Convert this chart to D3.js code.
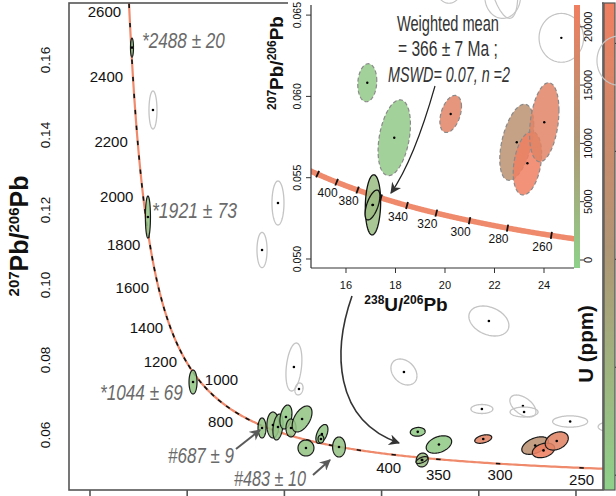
<!DOCTYPE html>
<html><head><meta charset="utf-8">
<script src="https://cdn.jsdelivr.net/npm/d3@7/dist/d3.min.js"></script>
<style>
html,body{margin:0;padding:0;background:#fff;}
svg{display:block;}
text{font-family:"Liberation Sans",Arial,Helvetica,sans-serif;}
</style></head><body>
<svg id="chart" width="616" height="496"></svg>
<script>
// U-Pb decay constants (per year) and 238U/235U ratio
const LAMBDA238 = 1.55125e-10, LAMBDA235 = 9.8485e-10, U238_U235 = 137.818;

// Main Tera-Wasserburg diagram
const mainXDomain = [-1.08, 26.39];
const mainYDomain = [0.04533, 0.1752];
const mainXTicks = [0, 5, 10, 15, 20, 25];
const mainYTicks = [0.06, 0.08, 0.10, 0.12, 0.14, 0.16];
const mainMarkerAges = d3.range(250, 2601, 50);
const mainAgeLabels = [2600, 2400, 2200, 2000, 1800, 1600, 1400, 1200, 1000, 800, 400, 350, 300, 250];

// Inset (zoom on the young grains)
const insetXDomain = [14.586, 25.212];
const insetYDomain = [0.049446, 0.065621];
const insetXTicks = [16, 18, 20, 22, 24];
const insetYTicks = [0.050, 0.055, 0.060, 0.065];
const insetMarkerAges = d3.range(260, 421, 20);
const insetAgeLabels = [400, 380, 340, 320, 300, 280, 260];

// U concentration colour bar (ppm)
const uDomain = [-686, 21870];
const uTicks = [0, 5000, 10000, 15000, 20000];

// Grains without U colouring (rejected analyses): centre, half-extent in x and y, correlation
const rejectedGrains = [
  {x: 3.24,  y: 0.14667, sx: 0.206, sy: 0.00507, rho: 0.0},
  {x: 9.67,  y: 0.12187, sx: 0.309, sy: 0.00587, rho: 0.0},
  {x: 8.85,  y: 0.10933, sx: 0.26,  sy: 0.0047,  rho: 0.0},
  {x: 10.49, y: 0.07813, sx: 0.41,  sy: 0.0064,  rho: 0.3},
  {x: 10.75, y: 0.07227, sx: 0.21,  sy: 0.0016,  rho: 0.2},
  {x: 16.15, y: 0.0768,  sx: 0.67,  sy: 0.00347, rho: -0.3},
  {x: 20.52, y: 0.0904,  sx: 1.03,  sy: 0.0040,  rho: -0.3},
  {x: 20.16, y: 0.06693, sx: 0.566, sy: 0.0012,  rho: 0.0},
  {x: 22.27, y: 0.06773, sx: 0.67,  sy: 0.00293, rho: -0.5},
  {x: 22.33, y: 0.06613, sx: 0.72,  sy: 0.00133, rho: 0.0},
  {x: 24.70, y: 0.0636,  sx: 0.90,  sy: 0.0015,  rho: 0.0},
  {x: 26.99, y: 0.0622,  sx: 0.85,  sy: 0.0015,  rho: 0.0}
];

// Grains coloured by U content (ppm); "mean" marks the two used for the weighted mean
const grains = [
  {x: 2.16,  y: 0.1633,  sx: 0.077, sy: 0.00253, rho: 0.0, u: 900},
  {x: 2.98,  y: 0.11813, sx: 0.13,  sy: 0.0056,  rho: 0.0, u: 1500},
  {x: 5.30,  y: 0.07413, sx: 0.206, sy: 0.0032,  rho: 0.0, u: 1200},
  {x: 8.85,  y: 0.06187, sx: 0.206, sy: 0.00267, rho: 0.0, u: 1800},
  {x: 9.41,  y: 0.06267, sx: 0.31,  sy: 0.00347, rho: 0.0, u: 2200},
  {x: 9.67,  y: 0.06213, sx: 0.26,  sy: 0.00347, rho: 0.3, u: 1600},
  {x: 10.08, y: 0.0648,  sx: 0.31,  sy: 0.0032,  rho: 0.3, u: 1000},
  {x: 10.34, y: 0.06187, sx: 0.26,  sy: 0.0024,  rho: 0.0, u: 2500},
  {x: 10.91, y: 0.06427, sx: 0.51,  sy: 0.00347, rho: 0.5, u: 1400},
  {x: 11.93, y: 0.06027, sx: 0.31,  sy: 0.00253, rho: 0.5, u: 1200},
  {x: 11.88, y: 0.05893, sx: 0.15,  sy: 0.00107, rho: 0.0, u: 900},
  {x: 11.11, y: 0.05653, sx: 0.41,  sy: 0.00213, rho: 0.0, u: 1700},
  {x: 12.81, y: 0.0568,  sx: 0.33,  sy: 0.00267, rho: 0.0, u: 2000},
  {x: 16.86, y: 0.06084, sx: 0.384, sy: 0.00117, rho: 0.1, u: 600},
  {x: 17.95, y: 0.05746, sx: 0.654, sy: 0.00233, rho: 0.35, u: 800},
  {x: 17.09, y: 0.05333, sx: 0.31,  sy: 0.00185, rho: 0.1, u: 3000, mean: true},
  {x: 17.07, y: 0.05332, sx: 0.30,  sy: 0.00092, rho: 0.6, u: 3500, mean: true},
  {x: 20.23, y: 0.05892, sx: 0.437, sy: 0.00114, rho: 0.4, u: 19000},
  {x: 22.90, y: 0.05718, sx: 0.687, sy: 0.00234, rho: 0.45, u: 12500},
  {x: 23.33, y: 0.05589, sx: 0.574, sy: 0.00195, rho: 0.3, u: 21500},
  {x: 24.01, y: 0.05841, sx: 0.594, sy: 0.00243, rho: 0.3, u: 19000}
];

// Age annotations on the main diagram
const ageNotes = ["*2488 \u00b1 20", "*1921 \u00b1 73", "*1044 \u00b1 69", "#687 \u00b1 9", "#483 \u00b1 10"];
const meanLines = ["Weighted mean", "= 366 \u00b1 7 Ma ;", "MSWD= 0.07, n =2"];

// ---------- layout / style ----------
// left x, baseline y and drawn width of each note (condensed italic)
const noteLayout = [[142, 48, 83], [152, 218, 85], [100, 400, 83], [168, 463, 66], [234, 486, 72]];
const mainLabelOffset = {
  2600: [-8, 6, "end"], 2400: [-10, -2, "end"], 2200: [-10, -1, "end"], 2000: [-10, -2, "end"],
  1800: [-10, -2, "end"], 1600: [-10, -2, "end"], 1400: [-7, 1, "end"], 1200: [-8, 2, "end"],
  1000: [-1, -8, "start"], 800: [-4, 9, "end"], 400: [-5, 13, "middle"], 350: [0, 15, "middle"],
  300: [2, 11, "middle"], 250: [0, 12, "middle"]
};
const ORANGE = "#ef8a6c";

function concordia(t) {
  const e8 = Math.expm1(LAMBDA238 * t * 1e6), e5 = Math.expm1(LAMBDA235 * t * 1e6);
  return [1 / e8, e5 / e8 / U238_U235];
}
function ellipsePoints(g, n = 96) {
  const r = Math.sqrt(1 - g.rho * g.rho);
  return d3.range(n + 1).map(i => {
    const a = 2 * Math.PI * i / n;
    return [g.x + g.sx * Math.cos(a), g.y + g.sy * (g.rho * Math.cos(a) + r * Math.sin(a))];
  });
}
// draws text squeezed horizontally to a given width (condensed look)
function condensedText(parent, s, x, y, width, opts) {
  const g = parent.append("g");
  const t = g.append("text").attr("font-family", "Roboto, 'Open Sans', sans-serif")
    .attr("font-size", opts.size).attr("font-style", opts.italic ? "italic" : "normal")
    .attr("fill", opts.fill).text(s);
  const natural = t.node().getComputedTextLength();
  const k = width / natural;
  const left = opts.anchor === "middle" ? x - width / 2 : x;
  g.attr("transform", `translate(${left},${y}) scale(${k},1)`);
  return g;
}

const svg = d3.select("#chart");
const defs = svg.append("defs");
function arrowMarker(id, color, w, h) {
  defs.append("marker").attr("id", id).attr("viewBox", "0 0 10 10").attr("refX", 9).attr("refY", 5)
    .attr("markerWidth", w).attr("markerHeight", h).attr("orient", "auto").attr("markerUnits", "userSpaceOnUse")
    .append("path").attr("d", "M0,0 L10,5 L0,10 L3,5 Z").attr("fill", color);
}
arrowMarker("headGrey", "#5a5a5a", 12, 11);
arrowMarker("headDark", "#333", 12, 11);

const uColor = d3.scaleLinear()
  .domain([uDomain[0], (uDomain[0] + uDomain[1]) / 2, uDomain[1]])
  .range(["#8ed18a", "#b09574", "#f07e60"]).clamp(true);

// ================= main diagram =================
const mx = d3.scaleLinear().domain(mainXDomain).range([69, 603]);
const my = d3.scaleLinear().domain(mainYDomain).range([490, 3]);
defs.append("clipPath").attr("id", "mainClip").append("rect")
  .attr("x", 69).attr("y", 3).attr("width", 534).attr("height", 487);

const main = svg.append("g");
const mainPlot = main.append("g").attr("clip-path", "url(#mainClip)");
const mline = d3.line().x(d => mx(d[0])).y(d => my(d[1]));

// concordia curve
const curveAges = d3.range(236, 2700, 2);
mainPlot.append("path").attr("d", mline(curveAges.map(concordia)))
  .attr("fill", "none").attr("stroke", ORANGE).attr("stroke-width", 2.2);
// age markers: short dashes along the curve
mainMarkerAges.forEach(t => {
  const a = concordia(t - 3), b = concordia(t + 3), c = concordia(t);
  const dx = mx(b[0]) - mx(a[0]), dy = my(b[1]) - my(a[1]), L = Math.hypot(dx, dy);
  const ux = dx / L * 2.2, uy = dy / L * 2.2;
  mainPlot.append("line").attr("x1", mx(c[0]) - ux).attr("y1", my(c[1]) - uy)
    .attr("x2", mx(c[0]) + ux).attr("y2", my(c[1]) + uy)
    .attr("stroke", "#111").attr("stroke-width", 1.6);
});

// rejected grains
rejectedGrains.forEach(g => {
  mainPlot.append("path").attr("d", mline(ellipsePoints(g)))
    .attr("fill", "none").attr("stroke", "#c4c4c4").attr("stroke-width", 1.3);
  mainPlot.append("circle").attr("cx", mx(g.x)).attr("cy", my(g.y)).attr("r", 1.3).attr("fill", "#000");
});
// U-coloured grains
grains.forEach(g => {
  mainPlot.append("path").attr("d", mline(ellipsePoints(g)))
    .attr("fill", uColor(g.u)).attr("fill-opacity", 0.88)
    .attr("stroke", "#1a1a1a").attr("stroke-width", 1.2);
});
grains.forEach(g => {
  mainPlot.append("circle").attr("cx", mx(g.x)).attr("cy", my(g.y)).attr("r", 1.3).attr("fill", "#000");
});

// concordia age labels
mainAgeLabels.forEach(t => {
  const c = concordia(t), o = mainLabelOffset[t];
  main.append("text").attr("x", mx(c[0]) + o[0]).attr("y", my(c[1]) + o[1])
    .attr("dy", "0.35em").attr("text-anchor", o[2]).attr("font-size", 15).attr("fill", "#111").text(t);
});

// age notes
ageNotes.forEach((s, i) => {
  const L = noteLayout[i];
  condensedText(main, s, L[0], L[1], L[2], {size: 22, italic: true, fill: "#6a6a6a"});
});
main.append("line").attr("x1", 236).attr("y1", 449).attr("x2", 260).attr("y2", 430)
  .attr("stroke", "#5a5a5a").attr("stroke-width", 2).attr("marker-end", "url(#headGrey)");
main.append("line").attr("x1", 313).attr("y1", 475).attr("x2", 330).attr("y2", 460)
  .attr("stroke", "#5a5a5a").attr("stroke-width", 2).attr("marker-end", "url(#headGrey)");

// frame and axes (tick labels on the x axis fall below the visible area)
main.append("rect").attr("x", 69).attr("y", 3).attr("width", 534).attr("height", 487)
  .attr("fill", "none").attr("stroke", "#555").attr("stroke-width", 1.6);
mainXTicks.forEach(v => {
  main.append("line").attr("x1", mx(v)).attr("x2", mx(v)).attr("y1", 490).attr("y2", 498)
    .attr("stroke", "#555").attr("stroke-width", 1.6);
});
mainYTicks.forEach(v => {
  main.append("text").attr("transform", `translate(50,${my(v)}) rotate(-90)`)
    .attr("text-anchor", "middle").attr("font-size", 13.5).attr("fill", "#111").text(v.toFixed(2));
});
const yTitle = main.append("text").attr("transform", "translate(28,236) rotate(-90)")
  .attr("text-anchor", "middle").attr("font-weight", "bold").attr("font-size", 25).attr("fill", "#111");
yTitle.append("tspan").attr("font-size", 15).attr("dy", -9).text("207");
yTitle.append("tspan").attr("dy", 9).text("Pb/");
yTitle.append("tspan").attr("font-size", 15).attr("dy", -9).text("206");
yTitle.append("tspan").attr("dy", 9).text("Pb");

// main colour bar
const cbY = d3.scaleLinear().domain(uDomain).range([490, 3]);
const gradMain = defs.append("linearGradient").attr("id", "uGrad").attr("x1", 0).attr("y1", 1).attr("x2", 0).attr("y2", 0);
d3.range(0, 1.001, 0.1).forEach(f => gradMain.append("stop").attr("offset", f)
  .attr("stop-color", uColor(uDomain[0] + f * (uDomain[1] - uDomain[0]))));
main.append("rect").attr("x", 604).attr("y", 3).attr("width", 11).attr("height", 487)
  .attr("fill", "url(#uGrad)").attr("stroke", "#555").attr("stroke-width", 1.2);
uTicks.forEach(v => main.append("line").attr("x1", 615).attr("x2", 620)
  .attr("y1", cbY(v)).attr("y2", cbY(v)).attr("stroke", "#333"));
main.append("text").attr("transform", "translate(593,344) rotate(-90)").attr("text-anchor", "middle")
  .attr("font-weight", "bold").attr("font-size", 20.5).attr("fill", "#111").text("U (ppm)");

// ================= inset =================
const ix = d3.scaleLinear().domain(insetXDomain).range([311, 574]);
const iy = d3.scaleLinear().domain(insetYDomain).range([268, 5]);
const iline = d3.line().x(d => ix(d[0])).y(d => iy(d[1]));
const inset = svg.append("g");
inset.append("rect").attr("x", 288).attr("y", 0).attr("width", 314).attr("height", 297).attr("fill", "#fff");

// concordia band
defs.append("clipPath").attr("id", "insetClip").append("rect")
  .attr("x", 311).attr("y", 5).attr("width", 263).attr("height", 263);
inset.append("path").attr("d", iline(d3.range(250, 440, 1).map(concordia)))
  .attr("fill", "none").attr("stroke", ORANGE).attr("stroke-width", 5.5)
  .attr("clip-path", "url(#insetClip)");
insetMarkerAges.forEach(t => {
  const a = concordia(t - 1), b = concordia(t + 1), c = concordia(t);
  const dx = ix(b[0]) - ix(a[0]), dy = iy(b[1]) - iy(a[1]), L = Math.hypot(dx, dy);
  const nx = -dy / L * 3.6, ny = dx / L * 3.6;
  inset.append("line").attr("x1", ix(c[0]) - nx).attr("y1", iy(c[1]) - ny)
    .attr("x2", ix(c[0]) + nx).attr("y2", iy(c[1]) + ny)
    .attr("stroke", "#111").attr("stroke-width", 1.8);
});
insetAgeLabels.forEach(t => {
  const c = concordia(t);
  inset.append("text").attr("x", ix(c[0]) - 9).attr("y", iy(c[1]) + 11).attr("dy", "0.35em")
    .attr("text-anchor", "middle").attr("font-size", 12).attr("fill", "#111").text(t);
});

// rejected grains in inset range
rejectedGrains.forEach(g => {
  inset.append("path").attr("d", iline(ellipsePoints(g)))
    .attr("fill", "none").attr("stroke", "#c4c4c4").attr("stroke-width", 1.2);
  inset.append("circle").attr("cx", ix(g.x)).attr("cy", iy(g.y)).attr("r", 1.2).attr("fill", "#000");
});
const insetGrains = grains.filter(g => g.x > insetXDomain[0] && g.x < insetXDomain[1] &&
  g.y > insetYDomain[0] && g.y < insetYDomain[1]);
insetGrains.forEach(g => {
  inset.append("path").attr("d", iline(ellipsePoints(g)))
    .attr("fill", uColor(g.u)).attr("fill-opacity", 0.85)
    .attr("stroke", g.mean ? "#111" : "#8a8a8a").attr("stroke-width", g.mean ? 1.3 : 1.2)
    .attr("stroke-dasharray", g.mean ? null : "4,2.5");
});
insetGrains.forEach(g => {
  inset.append("circle").attr("cx", ix(g.x)).attr("cy", iy(g.y)).attr("r", 1.2).attr("fill", "#000");
});

// inset axes
inset.append("line").attr("x1", 311).attr("x2", 311).attr("y1", 5).attr("y2", 268).attr("stroke", "#333").attr("stroke-width", 1.2);
inset.append("line").attr("x1", 311).attr("x2", 574).attr("y1", 268).attr("y2", 268).attr("stroke", "#333").attr("stroke-width", 1.2);
insetXTicks.forEach(v => {
  inset.append("line").attr("x1", ix(v)).attr("x2", ix(v)).attr("y1", 268).attr("y2", 273).attr("stroke", "#333");
  inset.append("text").attr("x", ix(v)).attr("y", 289).attr("text-anchor", "middle").attr("font-size", 11).attr("fill", "#111").text(v);
});
insetYTicks.forEach(v => {
  inset.append("line").attr("x1", 306).attr("x2", 311).attr("y1", iy(v)).attr("y2", iy(v)).attr("stroke", "#333");
  inset.append("text").attr("transform", `translate(301,${iy(v)}) rotate(-90)`).attr("text-anchor", "middle")
    .attr("font-size", 10.5).attr("fill", "#111").text(v.toFixed(3));
});
const ixTitle = inset.append("text").attr("x", 406).attr("y", 311).attr("text-anchor", "middle")
  .attr("font-weight", "bold").attr("font-size", 19).attr("fill", "#111");
ixTitle.append("tspan").attr("font-size", 12).attr("dy", -7).text("238");
ixTitle.append("tspan").attr("dy", 7).text("U/");
ixTitle.append("tspan").attr("font-size", 12).attr("dy", -7).text("206");
ixTitle.append("tspan").attr("dy", 7).text("Pb");
const iyTitle = inset.append("text").attr("transform", "translate(283,63) rotate(-90)").attr("text-anchor", "middle")
  .attr("font-weight", "bold").attr("font-size", 19).attr("fill", "#111");
iyTitle.append("tspan").attr("font-size", 12).attr("dy", -7).text("207");
iyTitle.append("tspan").attr("dy", 7).text("Pb/");
iyTitle.append("tspan").attr("font-size", 12).attr("dy", -7).text("206");
iyTitle.append("tspan").attr("dy", 7).text("Pb");

// inset colour bar
const icbY = d3.scaleLinear().domain(uDomain).range([268, 5]);
inset.append("rect").attr("x", 574).attr("y", 5).attr("width", 6).attr("height", 263).attr("fill", "url(#uGrad)");
uTicks.forEach(v => {
  inset.append("line").attr("x1", 580).attr("x2", 584).attr("y1", icbY(v)).attr("y2", icbY(v)).attr("stroke", "#333");
  inset.append("text").attr("transform", `translate(592,${icbY(v)}) rotate(-90)`).attr("text-anchor", "middle")
    .attr("font-size", 11).attr("fill", "#111").text(v);
});

// weighted mean annotation
const meanLayout = [[448, 31, false, 102], [448, 56, false, 100], [449, 82, true, 122]];
meanLines.forEach((s, i) => {
  const L = meanLayout[i];
  condensedText(inset, s, L[0], L[1], L[3], {size: 22, italic: L[2], fill: "#333", anchor: "middle"});
});
inset.append("path").attr("d", "M435,86 Q414,160 391,193").attr("fill", "none")
  .attr("stroke", "#222").attr("stroke-width", 1.2).attr("marker-end", "url(#headDark)");

// link arrow from inset down to the young grains
svg.append("path").attr("d", "M352,296 C333,350 333,420 399,443").attr("fill", "none")
  .attr("stroke", "#333").attr("stroke-width", 1.6).attr("marker-end", "url(#headDark)");
</script>
</body></html>
